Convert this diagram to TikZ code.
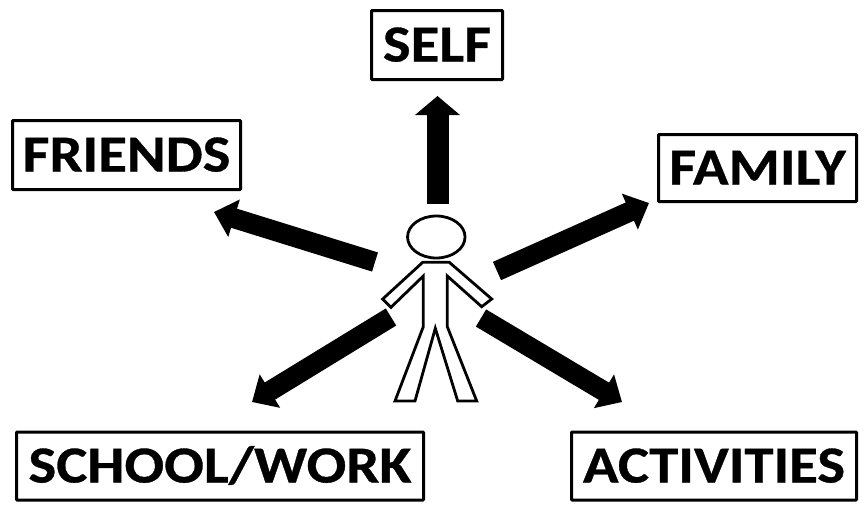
\documentclass[tikz,border=0pt]{standalone}
\usepackage{fontspec}
\setmainfont[FakeStretch=1.13,BoldFeatures={FakeBold=0.6}]{Carlito}
\usetikzlibrary{arrows.meta,shapes.geometric}
\tikzset{
  labelbox/.style={draw=black,line width=3pt,rectangle,inner sep=0pt,rounded corners=0.8pt,
    text height=33pt,text depth=0pt,font=\fontsize{52}{52}\selectfont\bfseries},
  bigarrow/.style={line width=20pt,draw=black,-{Triangle[length=21pt,width=38pt]}},
  person/.style={draw=black,line width=2.8pt,line join=miter,fill=white},
}
\begin{document}
\begin{tikzpicture}[x=1pt,y=-1pt]
\useasboundingbox (0,0) rectangle (866,504);
\fill[white] (0,0) rectangle (866,504);
% labels
\node[labelbox,minimum width=131pt,minimum height=69pt] (self) at (437,45) {SELF};
\node[labelbox,minimum width=228pt,minimum height=69pt] (friends) at (126.5,155) {FRIENDS};
\node[labelbox,minimum width=198pt,minimum height=67pt] (family) at (757.5,168) {FAMILY};
\node[labelbox,minimum width=407pt,minimum height=68pt] (school) at (220,466) {SCHOOL/WORK};
\node[labelbox,minimum width=285pt,minimum height=68pt] (activities) at (714,466) {ACTIVITIES};
% figure
\node[person,ellipse,minimum width=57.5pt,minimum height=42pt,inner sep=0pt] (head) at (436.3,237) {};
\draw[person] (422.7,262.3) -- (382.7,299) -- (391,307.3) -- (423.3,276) -- (423.3,326.7)
  -- (395,401) -- (415,401) -- (435.3,328.3) -- (457.7,401) -- (476.7,401)
  -- (447.3,326.7) -- (447.3,276) -- (481.7,306.7) -- (491.7,299) -- (449.3,262.3) -- cycle;
% arrow ends
\coordinate (selfTail) at (437.5,204);
\coordinate (selfTip) at (437.5,96);
\coordinate (friendsTail) at (375,262);
\coordinate (friendsTip) at (214,212);
\coordinate (familyTail) at (497,271);
\coordinate (familyTip) at (649,203);
\coordinate (schoolTail) at (391,317);
\coordinate (schoolTip) at (252,402);
\coordinate (activitiesTail) at (481,318);
\coordinate (activitiesTip) at (622,402);
\draw[bigarrow,line width=22pt,-{Triangle[length=19pt,width=44pt]}] (selfTail) -- (selfTip);
\draw[bigarrow] (friendsTail) -- (friendsTip);
\draw[bigarrow] (familyTail) -- (familyTip);
\draw[bigarrow] (schoolTail) -- (schoolTip);
\draw[bigarrow] (activitiesTail) -- (activitiesTip);
\end{tikzpicture}
\end{document}
